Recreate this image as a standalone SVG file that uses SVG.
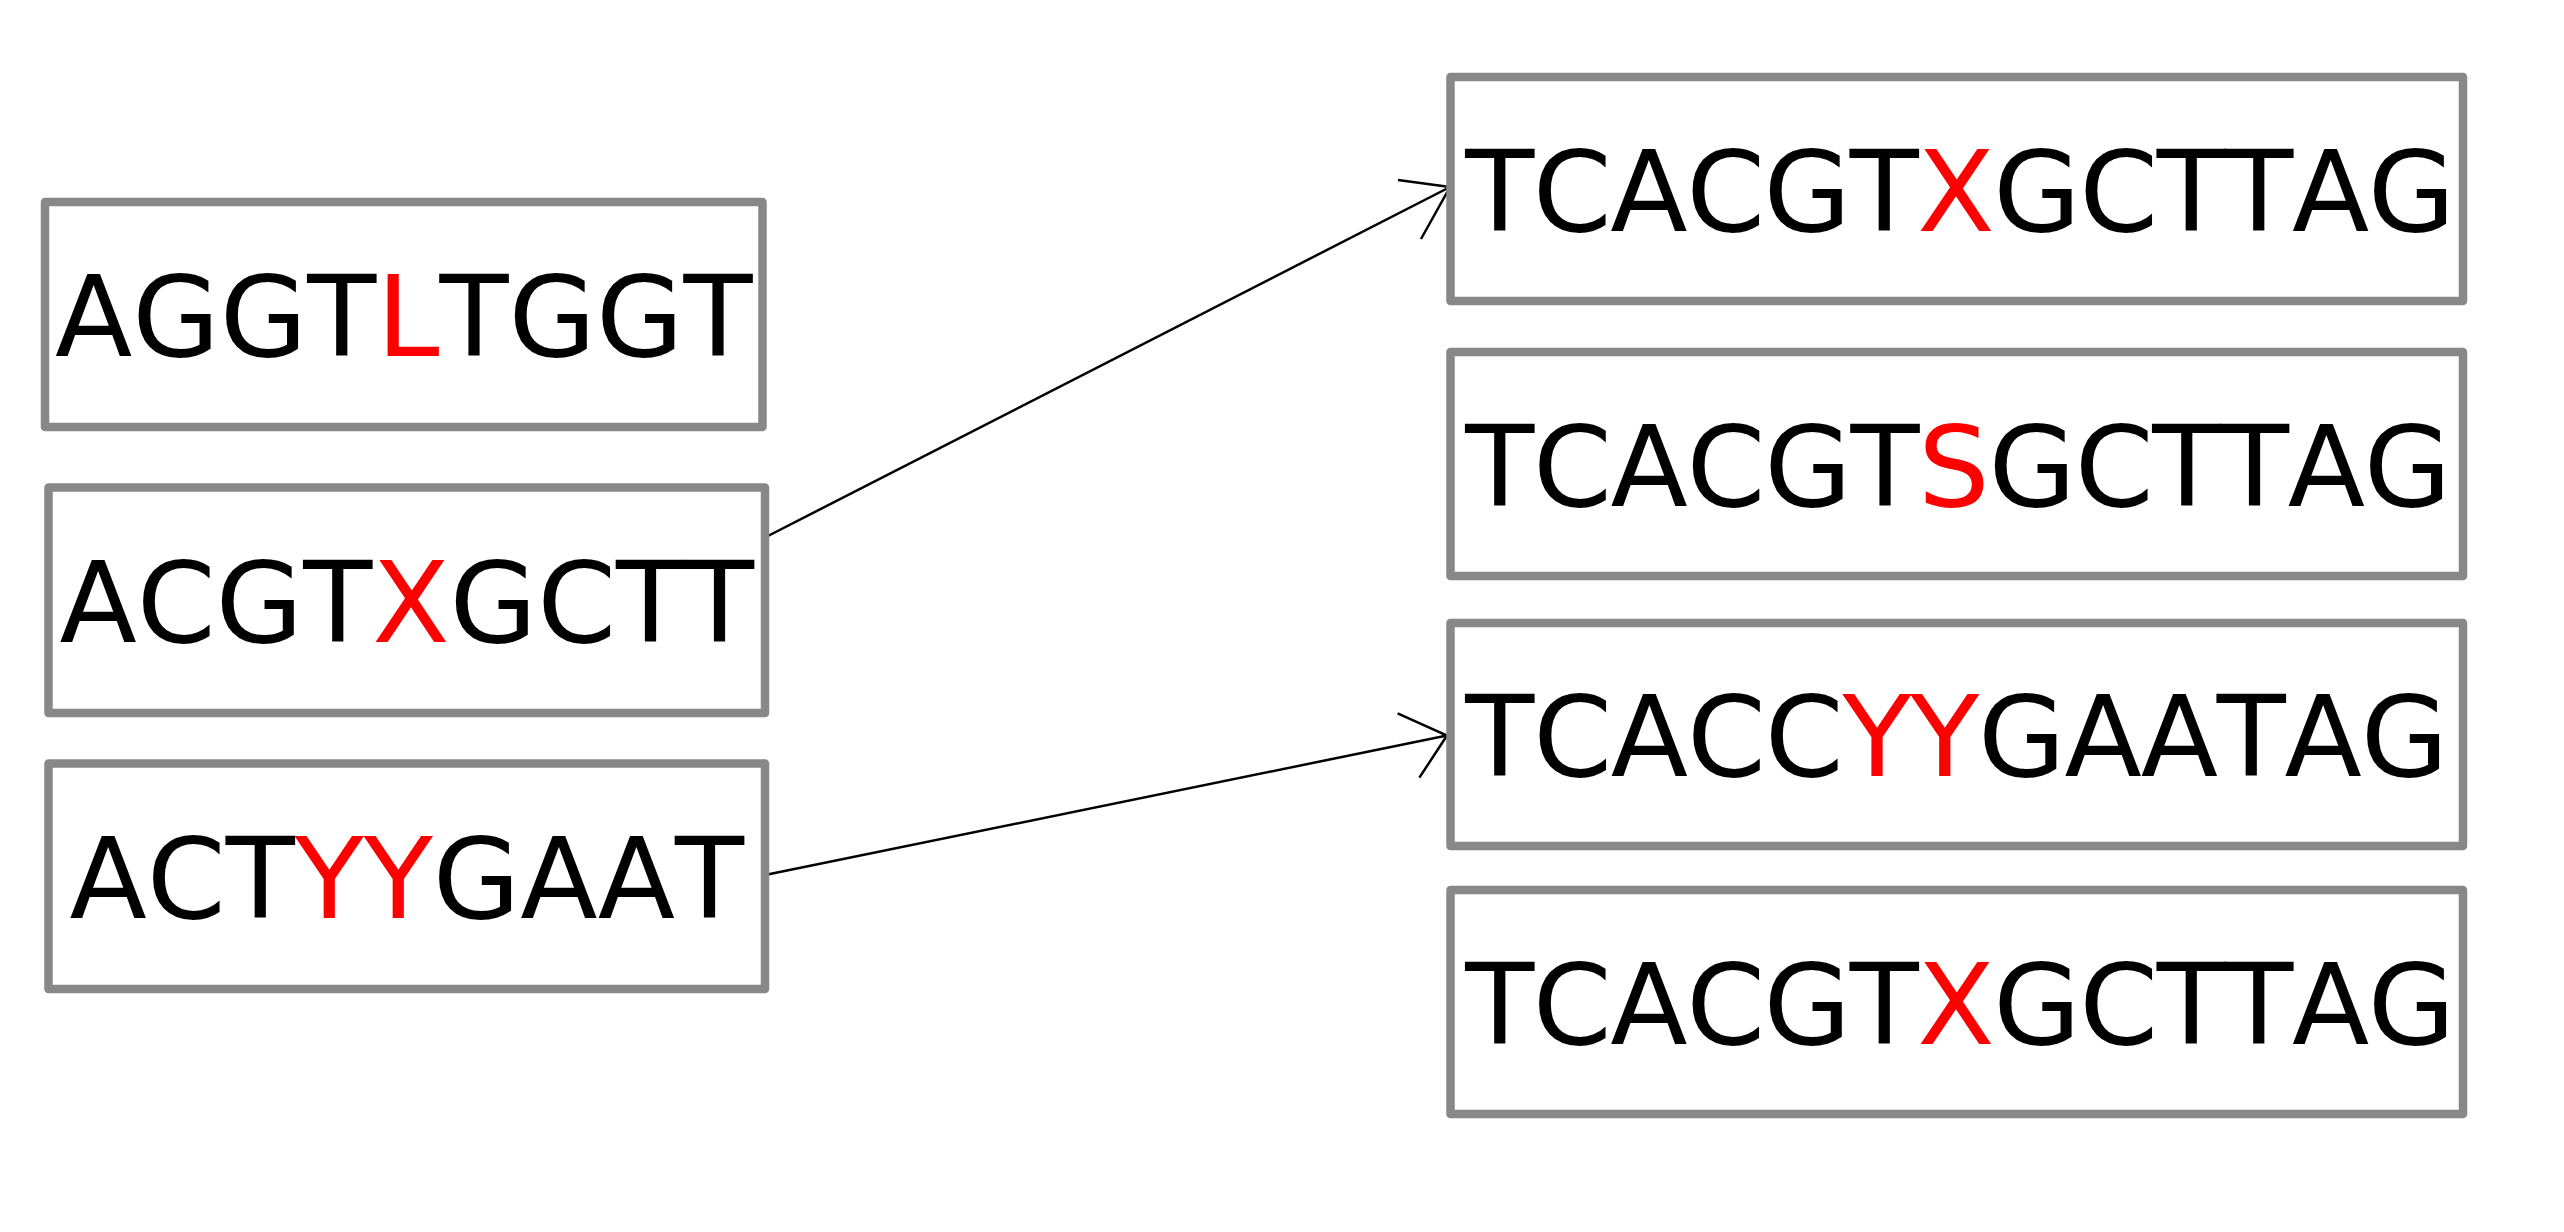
<svg xmlns="http://www.w3.org/2000/svg" width="2564" height="1232" viewBox="0 0 2564 1232">
<style>
.box{fill:#ffffff;stroke:#888888;stroke-width:8.5;stroke-linejoin:round}
.lbl{font-family:"DejaVu Sans","Noto Sans",sans-serif;font-size:113px;fill:#000000;font-kerning:none;font-feature-settings:"kern" 0}
.mid{text-anchor:middle}
.hl{fill:#ff0000}
.edge{fill:none;stroke:#000000;stroke-width:2.5}
.head{fill:none;stroke:#000000;stroke-width:2.5;stroke-linejoin:miter}
</style>
<rect width="2564" height="1232" fill="#ffffff"/>
<g id="connectors">
<line class="edge" x1="764" y1="538" x2="1450" y2="187"/>
<polyline class="head" points="1398,180 1450,187 1421,239"/>
<line class="edge" x1="765" y1="875" x2="1447" y2="735.5"/>
<polyline class="head" points="1397.6,713.3 1447,735.5 1419.4,777.6"/>
</g>
<g id="node-l1">
<rect class="box" x="45" y="202" width="717.5" height="225"/>
<text class="lbl mid" x="403.75" y="355.7">AGGT<tspan class="hl">L</tspan>TGGT</text>
</g>
<g id="node-l2">
<rect class="box" x="48.5" y="487.5" width="716.5" height="225.5"/>
<text class="lbl mid" x="406.75" y="641.7">ACGT<tspan class="hl">X</tspan>GCTT</text>
</g>
<g id="node-l3">
<rect class="box" x="48.5" y="763.5" width="716.5" height="225.5"/>
<text class="lbl mid" x="406.75" y="917.7">ACT<tspan class="hl">YY</tspan>GAAT</text>
</g>
<g id="node-r1">
<rect class="box" x="1450.5" y="77" width="1012.5" height="224"/>
<text class="lbl" x="1465.3" y="230.7" textLength="990" lengthAdjust="spacing">TCACGT<tspan class="hl">X</tspan>GCTTAG</text>
</g>
<g id="node-r2">
<rect class="box" x="1450.5" y="352" width="1012.5" height="224"/>
<text class="lbl" x="1465.3" y="505.5" textLength="986" lengthAdjust="spacing">TCACGT<tspan class="hl">S</tspan>GCTTAG</text>
</g>
<g id="node-r3">
<rect class="box" x="1450.5" y="623" width="1012.5" height="223"/>
<text class="lbl" x="1465.3" y="776" textLength="983" lengthAdjust="spacing">TCACC<tspan class="hl">YY</tspan>GAATAG</text>
</g>
<g id="node-r4">
<rect class="box" x="1450.5" y="890" width="1012.5" height="224"/>
<text class="lbl" x="1465.3" y="1043.5" textLength="990" lengthAdjust="spacing">TCACGT<tspan class="hl">X</tspan>GCTTAG</text>
</g>
</svg>
